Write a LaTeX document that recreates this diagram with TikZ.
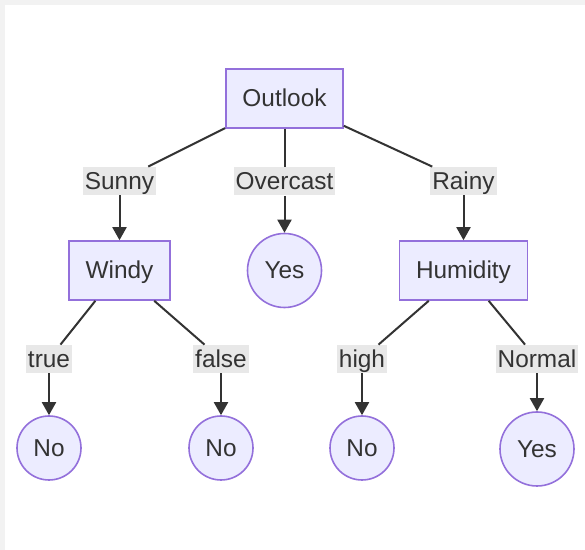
\documentclass[tikz,border=0pt]{standalone}
\usepackage{fontspec}
\setmainfont{Liberation Sans}
\usepackage{xcolor}
\usetikzlibrary{positioning, arrows.meta}
\definecolor{nodefill}{HTML}{ECECFF}
\definecolor{nodeline}{HTML}{9370DB}
\definecolor{edgeline}{HTML}{333333}
\definecolor{labelfill}{HTML}{E8E8E8}
\definecolor{framegray}{HTML}{F2F2F2}

\begin{document}
\begin{tikzpicture}[
    on grid,
    every node/.style={
        font=\fontsize{12.2}{14}\selectfont,
        text=edgeline,
        text height=10.8pt,
        text depth=2.6pt
    },
    decision/.style={
        draw=nodeline,
        line width=0.8pt,
        fill=nodefill,
        rectangle,
        inner xsep=8.25pt,
        minimum height=29.5pt
    },
    leaf/.style={
        draw=nodeline,
        line width=0.8pt,
        fill=nodefill,
        circle,
        inner sep=0pt,
        minimum size=32pt
    },
    bigleaf/.style={leaf, minimum size=37pt},
    branch/.style={
        fill=labelfill,
        inner xsep=1pt,
        inner ysep=0.3pt,
        minimum height=14pt
    },
    edge/.style={draw=edgeline, line width=1pt},
    arrow/.style={edge, -{Triangle[length=6.5pt,width=7pt]}}
]

%  Frame 
\fill[framegray] (0,0) rectangle (292.5pt,-275pt);
\fill[white] (2.5pt,-2.5pt) rectangle (292.5pt,-275pt);

%  Root node 
\node[decision] (outlook) at (142.25pt,-49.25pt) {Outlook};

%  Second level 
\node[decision] (windy) [below left=86pt and 82.5pt of outlook] {Windy};
\node[bigleaf] (yesover) [below=86pt of outlook] {Yes};
\node[decision] (humidity) [below right=86pt and 89.5pt of outlook] {Humidity};

%  Leaves 
\node[leaf] (notrue) [below left=88.75pt and 35.25pt of windy] {No};
\node[leaf] (nofalse) [below right=88.75pt and 50.75pt of windy] {No};
\node[leaf] (nohigh) [below left=88.75pt and 50.75pt of humidity] {No};
\node[bigleaf] (yesnormal) [below right=89.25pt and 36.75pt of humidity] {Yes};

%  Branch labels 
\node[branch] (sunny) [above=44.75pt of windy] {Sunny};
\node[branch] (overcast) [above=44.5pt of yesover] {Overcast};
\node[branch] (rainy) [above=44.75pt of humidity] {Rainy};
\node[branch] (true) [above=44.5pt of notrue] {true};
\node[branch] (false) [above=44.5pt of nofalse] {false};
\node[branch] (high) [above=44.5pt of nohigh] {high};
\node[branch] (normal) [above=45pt of yesnormal] {Normal};

%  Connectors 
\draw[edge] (outlook) -- (sunny);
\draw[arrow] (sunny) -- (windy);
\draw[edge] (outlook) -- (overcast);
\draw[arrow] (overcast) -- (yesover);
\draw[edge] (outlook) -- (rainy);
\draw[arrow] (rainy) -- (humidity);

\draw[edge] (windy) -- (true);
\draw[arrow] (true) -- (notrue);
\draw[edge] (windy) -- (false);
\draw[arrow] (false) -- (nofalse);
\draw[edge] (humidity) -- (high);
\draw[arrow] (high) -- (nohigh);
\draw[edge] (humidity) -- (normal);
\draw[arrow] (normal) -- (yesnormal);

\end{tikzpicture}
\end{document}
